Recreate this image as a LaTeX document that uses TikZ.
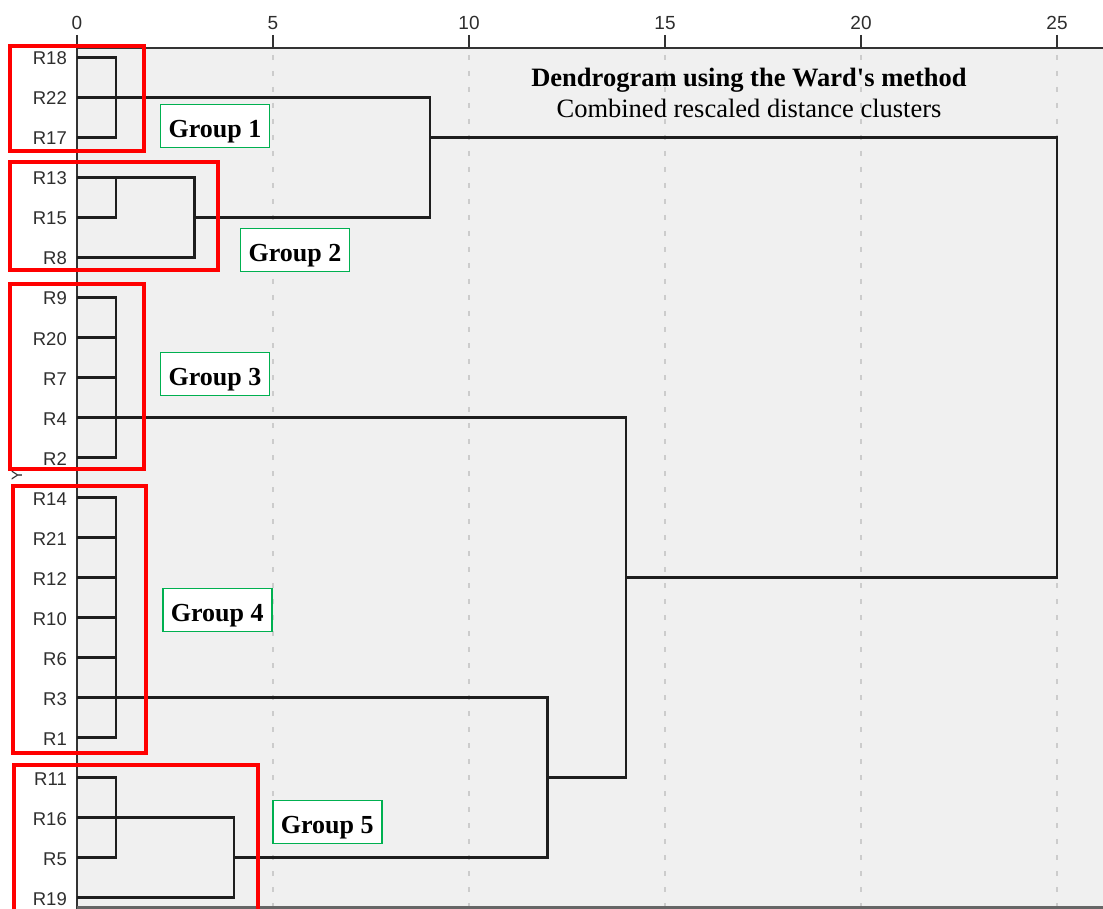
\documentclass[tikz,border=0pt]{standalone}
\usepackage{fontspec}
\setmainfont{Liberation Serif}
\newfontfamily\arialfont{Liberation Sans}
\usetikzlibrary{calc}
\definecolor{plotbg}{HTML}{F0F0F0}
\definecolor{gridgray}{HTML}{CCCCCC}
\definecolor{linegray}{HTML}{1E1E1E}
\definecolor{axisgray}{HTML}{333333}
\definecolor{labelgray}{HTML}{2E2E2E}
\definecolor{boxgreen}{HTML}{00B050}
\definecolor{boxred}{HTML}{FF0000}
\begin{document}
\begin{tikzpicture}[x=1pt,y=-1pt,
  leaf/.style={anchor=base east, inner sep=0pt, font=\arialfont\fontsize{18.5}{20}\selectfont, text=labelgray},
  ticklab/.style={anchor=base, inner sep=0pt, font=\arialfont\fontsize{19}{20}\selectfont, text=labelgray},
  dend/.style={draw=linegray, line width=2.4pt},
  gridline/.style={draw=gridgray, line width=1.8pt, dash pattern=on 5pt off 11pt},
  redbox/.style={draw=boxred, line width=4pt},
  grouplab/.style={draw=boxgreen, line width=1.6pt, fill=white, font=\bfseries\fontsize{26}{28}\selectfont,
    minimum width=109pt, minimum height=43pt, inner sep=0pt, text height=23pt, text depth=0pt},
  titlefont/.style={anchor=base, inner sep=0pt, font=\bfseries\fontsize{26.5}{30}\selectfont},
  subfont/.style={anchor=base, inner sep=0pt, font=\fontsize{26.5}{30}\selectfont}]
\useasboundingbox (0,0) rectangle (1103,909);
% plot area
\fill[plotbg] (77,48) rectangle (1103,907);
\foreach \u in {5,10,15,20,25}
  \draw[gridline] ({77+39.2*\u},55) -- ({77+39.2*\u},906);
% axes
\draw[draw=axisgray, line width=2.8pt] (77,48) -- (1103,48);
\draw[draw=axisgray, line width=2.6pt] (77,47) -- (77,909);
\draw[draw=gray!80!black, line width=3pt] (77,907.5) -- (1103,907.5);
\foreach \u in {0,5,10,15,20,25} {
  \draw[draw=axisgray, line width=2.2pt] ({77+39.2*\u},35) -- ({77+39.2*\u},48);
  \node[ticklab] (t\u) at ({77+39.2*\u},30) {\u};
}
% leaves
\foreach \n [count=\i from 0] in {R18,R22,R17,R13,R15,R8,R9,R20,R7,R4,R2,R14,R21,R12,R10,R6,R3,R1,R11,R16,R5,R19} {
  \node[leaf] (l\n) at (67,{57.5+40*\i+7.5}) {\n};
  \coordinate (p\n) at (77,{57.5+40*\i});
}
% Y axis label remnant
\node[rotate=90, inner sep=0pt, font=\arialfont\fontsize{15}{16}\selectfont, text=labelgray] (yax) at (17,475) {Y};
% dendrogram
% group 1
\draw[dend] (pR18) -- ++(39.2,0) |- (pR17);
\draw[dend] (pR22) -- ++(352.8,0) |- ($(pR15)+(117.6,0)$);
% group 2
\draw[dend] (pR13) -- ++(117.6,0) |- (pR8);
\draw[dend] (pR15) -- ++(39.2,0) |- (pR13);
% merge 1+2 with rest
\draw[dend] ($(pR17)+(352.8,0)$) -| ($(pR12)+(980,0)$) -- ($(pR12)+(548.8,0)$);
% group 3
\draw[dend] (pR9) -- ++(39.2,0) |- (pR2);
\draw[dend] (pR20) -- ++(39.2,0);
\draw[dend] (pR7) -- ++(39.2,0);
\draw[dend] (pR4) -- ++(548.8,0) |- ($(pR11)+(470.4,0)$);
% group 4
\draw[dend] (pR14) -- ++(39.2,0) |- (pR1);
\draw[dend] (pR21) -- ++(39.2,0);
\draw[dend] (pR12) -- ++(39.2,0);
\draw[dend] (pR10) -- ++(39.2,0);
\draw[dend] (pR6) -- ++(39.2,0);
\draw[dend] (pR3) -- ++(470.4,0) |- ($(pR5)+(156.8,0)$);
% group 5
\draw[dend] (pR11) -- ++(39.2,0) |- (pR5);
\draw[dend] (pR16) -- ++(156.8,0) |- (pR19);
% red group boxes
\draw[redbox] (10.3,45.8) rectangle (143.7,151.3);
\draw[redbox] (10.3,162) rectangle (218,270.3);
\draw[redbox] (10.3,284.3) rectangle (143.7,469.3);
\draw[redbox] (12.7,486.3) rectangle (146,753);
\draw[redbox] (14.3,764.7) rectangle (258,915);
% group labels
\node[grouplab] (g1) at (215,126) {Group 1};
\node[grouplab] (g2) at (295,250) {Group 2};
\node[grouplab] (g3) at (215,374) {Group 3};
\node[grouplab] (g4) at (217.2,610) {Group 4};
\node[grouplab] (g5) at (327.2,822) {Group 5};
% title
\node[titlefont] (title) at (749,87) {Dendrogram using the Ward\textquotesingle s method};
\node[subfont] (subtitle) at (749,118) {Combined rescaled distance clusters};
\end{tikzpicture}
\end{document}
